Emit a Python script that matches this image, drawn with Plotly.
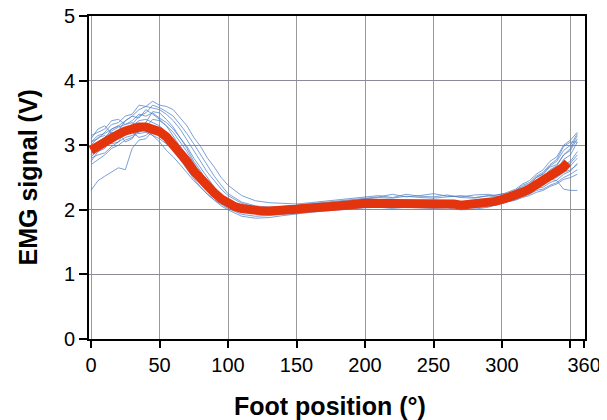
import plotly.graph_objects as go

# ---- data ----
trial_x = [0, 5, 10, 15, 20, 25, 30, 35, 40, 45, 50, 55, 60, 65, 70, 75, 80, 85, 90, 95, 100,
           110, 120, 130, 140, 150, 160, 170, 180, 190, 200, 210, 220, 230, 240, 250, 260, 270, 280, 290,
           295, 300, 305, 310, 315, 320, 325, 330, 335, 340, 345, 350, 355]

trial_01 = [2.30, 2.45, 2.52, 2.58, 2.65, 2.62, 2.95, 3.08, 3.10, 3.22, 3.18, 3.15, 3.05, 2.98, 2.80, 2.62, 2.52, 2.40, 2.30, 2.18, 2.12,
            2.02, 1.98, 1.97, 1.98, 2.00, 2.02, 2.03, 2.06, 2.08, 2.10, 2.12, 2.10, 2.12, 2.11, 2.09, 2.10, 2.08, 2.07, 2.10,
            2.12, 2.14, 2.19, 2.20, 2.26, 2.28, 2.36, 2.38, 2.47, 2.50, 2.58, 2.62, 2.70]
trial_02 = [3.05, 3.10, 3.20, 3.32, 3.35, 3.45, 3.48, 3.62, 3.60, 3.68, 3.62, 3.60, 3.55, 3.42, 3.30, 3.12, 2.98, 2.80, 2.66, 2.50, 2.38,
            2.22, 2.14, 2.11, 2.10, 2.09, 2.11, 2.13, 2.15, 2.18, 2.20, 2.22, 2.19, 2.24, 2.21, 2.20, 2.23, 2.19, 2.18, 2.22,
            2.20, 2.22, 2.26, 2.28, 2.34, 2.37, 2.45, 2.50, 2.62, 2.68, 2.85, 2.95, 3.15]
trial_03 = [2.85, 3.02, 3.10, 3.25, 3.30, 3.38, 3.45, 3.42, 3.55, 3.48, 3.40, 3.30, 3.15, 2.98, 2.82, 2.62, 2.50, 2.34, 2.25, 2.14, 2.08,
            1.98, 1.95, 1.94, 1.96, 1.98, 2.00, 2.02, 2.03, 2.06, 2.08, 2.09, 2.10, 2.08, 2.10, 2.07, 2.08, 2.06, 2.05, 2.07,
            2.10, 2.12, 2.14, 2.18, 2.23, 2.25, 2.33, 2.35, 2.42, 2.46, 2.55, 2.60, 2.72]
trial_04 = [3.00, 3.12, 3.15, 3.02, 3.05, 3.22, 3.30, 3.38, 3.40, 3.35, 3.30, 3.18, 3.05, 2.85, 2.72, 2.55, 2.42, 2.28, 2.20, 2.10, 2.05,
            1.97, 1.94, 1.95, 1.97, 1.99, 2.01, 2.02, 2.04, 2.07, 2.09, 2.10, 2.08, 2.11, 2.09, 2.10, 2.11, 2.07, 2.08, 2.11,
            2.12, 2.15, 2.20, 2.24, 2.32, 2.34, 2.40, 2.44, 2.55, 2.62, 2.78, 2.85, 3.05]
trial_05 = [2.75, 2.90, 2.95, 3.12, 3.20, 3.05, 3.10, 3.28, 3.35, 3.52, 3.50, 3.40, 3.28, 3.12, 2.95, 2.75, 2.60, 2.42, 2.30, 2.18, 2.10,
            2.00, 1.96, 1.97, 1.99, 2.01, 2.03, 2.05, 2.06, 2.10, 2.11, 2.13, 2.12, 2.11, 2.13, 2.12, 2.10, 2.10, 2.11, 2.12,
            2.13, 2.16, 2.18, 2.22, 2.30, 2.32, 2.42, 2.48, 2.52, 2.58, 2.70, 2.75, 2.90]
trial_06 = [3.15, 3.20, 3.25, 3.38, 3.40, 3.32, 3.35, 3.28, 3.30, 3.25, 3.18, 3.08, 2.95, 2.78, 2.62, 2.48, 2.35, 2.24, 2.15, 2.08, 2.02,
            1.93, 1.90, 1.91, 1.93, 1.96, 1.98, 2.00, 2.01, 2.03, 2.05, 2.06, 2.05, 2.06, 2.05, 2.04, 2.05, 2.03, 2.03, 2.05,
            2.08, 2.10, 2.12, 2.15, 2.19, 2.22, 2.27, 2.30, 2.36, 2.40, 2.47, 2.50, 2.55]
trial_07 = [2.90, 2.98, 3.00, 3.08, 3.12, 3.20, 3.25, 3.18, 3.20, 3.15, 3.10, 3.02, 2.92, 2.82, 2.70, 2.58, 2.45, 2.32, 2.22, 2.12, 2.06,
            1.98, 1.96, 1.97, 1.99, 2.00, 2.02, 2.04, 2.05, 2.08, 2.10, 2.11, 2.10, 2.12, 2.10, 2.11, 2.09, 2.08, 2.09, 2.12,
            2.15, 2.18, 2.20, 2.25, 2.33, 2.38, 2.50, 2.55, 2.66, 2.70, 2.85, 2.92, 3.10]
trial_08 = [2.80, 2.85, 2.88, 2.98, 3.05, 3.12, 3.15, 3.22, 3.28, 3.40, 3.38, 3.30, 3.20, 3.05, 2.90, 2.72, 2.55, 2.40, 2.28, 2.18, 2.10,
            2.01, 1.97, 1.96, 1.98, 2.00, 2.02, 2.03, 2.05, 2.07, 2.09, 2.11, 2.11, 2.10, 2.12, 2.11, 2.12, 2.09, 2.10, 2.12,
            2.14, 2.16, 2.20, 2.22, 2.28, 2.30, 2.37, 2.40, 2.48, 2.52, 2.62, 2.68, 2.80]
trial_09 = [3.10, 3.25, 3.30, 3.18, 3.22, 3.38, 3.45, 3.55, 3.60, 3.58, 3.55, 3.48, 3.38, 3.25, 3.08, 2.92, 2.75, 2.58, 2.45, 2.32, 2.22,
            2.10, 2.04, 2.03, 2.05, 2.07, 2.09, 2.11, 2.14, 2.16, 2.18, 2.20, 2.24, 2.20, 2.22, 2.25, 2.21, 2.20, 2.23, 2.24,
            2.22, 2.25, 2.24, 2.30, 2.36, 2.40, 2.50, 2.56, 2.68, 2.75, 2.92, 3.00, 3.18]
trial_10 = [2.70, 2.78, 2.85, 2.95, 3.00, 3.08, 3.12, 3.20, 3.25, 3.15, 3.05, 2.92, 2.82, 2.70, 2.58, 2.45, 2.35, 2.24, 2.15, 2.06, 2.00,
            1.90, 1.87, 1.88, 1.91, 1.94, 1.96, 1.98, 2.00, 2.02, 2.03, 2.04, 2.02, 2.04, 2.03, 2.02, 2.03, 2.00, 2.01, 2.04,
            2.07, 2.10, 2.13, 2.16, 2.21, 2.24, 2.30, 2.32, 2.38, 2.42, 2.50, 2.55, 2.62]
trial_11 = [2.95, 3.05, 3.12, 3.22, 3.28, 3.32, 3.38, 3.48, 3.45, 3.50, 3.42, 3.35, 3.25, 3.12, 2.98, 2.80, 2.65, 2.48, 2.35, 2.24, 2.15,
            2.04, 1.99, 1.98, 1.99, 2.01, 2.03, 2.05, 2.07, 2.10, 2.12, 2.13, 2.14, 2.12, 2.13, 2.14, 2.11, 2.10, 2.11, 2.14,
            2.16, 2.20, 2.25, 2.30, 2.38, 2.42, 2.52, 2.58, 2.70, 2.78, 2.98, 3.05, 3.05]
trial_12 = [3.05, 3.15, 3.18, 3.25, 3.30, 3.20, 3.22, 3.32, 3.30, 3.28, 3.25, 3.12, 3.00, 2.85, 2.70, 2.55, 2.42, 2.30, 2.20, 2.12, 2.05,
            1.98, 1.95, 1.95, 1.97, 1.99, 2.01, 2.03, 2.04, 2.07, 2.08, 2.10, 2.09, 2.10, 2.09, 2.08, 2.09, 2.06, 2.07, 2.09,
            2.11, 2.13, 2.17, 2.20, 2.26, 2.28, 2.36, 2.40, 2.48, 2.45, 2.32, 2.30, 2.30]
trial_13 = [2.88, 3.00, 3.08, 3.20, 3.18, 3.25, 3.32, 3.45, 3.50, 3.62, 3.58, 3.52, 3.45, 3.32, 3.18, 3.02, 2.85, 2.68, 2.52, 2.38, 2.25,
            2.12, 2.06, 2.04, 2.05, 2.07, 2.08, 2.10, 2.12, 2.15, 2.17, 2.19, 2.18, 2.21, 2.19, 2.18, 2.20, 2.22, 2.19, 2.21,
            2.22, 2.24, 2.28, 2.32, 2.40, 2.45, 2.55, 2.62, 2.75, 2.82, 3.00, 3.08, 3.20]
trial_14 = [2.82, 2.92, 2.98, 3.05, 3.10, 3.18, 3.20, 3.12, 3.15, 3.25, 3.22, 3.18, 3.10, 2.98, 2.85, 2.70, 2.55, 2.40, 2.28, 2.18, 2.10,
            2.00, 1.96, 1.95, 1.96, 1.98, 2.00, 2.02, 2.04, 2.06, 2.08, 2.10, 2.09, 2.10, 2.09, 2.10, 2.09, 2.07, 2.08, 2.10,
            2.12, 2.15, 2.20, 2.22, 2.28, 2.30, 2.38, 2.42, 2.52, 2.56, 2.68, 2.72, 2.85]

trials = [trial_01, trial_02, trial_03, trial_04, trial_05, trial_06, trial_07,
          trial_08, trial_09, trial_10, trial_11, trial_12, trial_13, trial_14]

mean_x = [0, 5, 10, 15, 20, 25, 30, 35, 40, 45, 50, 55, 60, 65, 70, 75, 80, 85, 90, 95,
          100, 105, 110, 115, 120, 125, 130, 135, 140, 145, 150, 155, 160, 165, 170, 175,
          180, 185, 190, 195, 200, 205, 210, 215, 220, 225, 230, 235, 240, 245, 250, 255,
          260, 265, 270, 275, 280, 285, 290, 295, 300, 305, 310, 315, 320, 325, 330, 335,
          340, 345, 348]
mean_y = [2.92, 2.99, 3.06, 3.12, 3.17, 3.22, 3.26, 3.28, 3.28, 3.26, 3.21, 3.13, 3.02, 2.89,
          2.75, 2.60, 2.47, 2.36, 2.26, 2.17, 2.10, 2.05, 2.02, 2.00, 1.99, 1.98, 1.98, 1.98,
          1.99, 2.00, 2.01, 2.02, 2.02, 2.03, 2.04, 2.05, 2.06, 2.08, 2.09, 2.09, 2.10, 2.10,
          2.12, 2.11, 2.10, 2.12, 2.11, 2.10, 2.11, 2.10, 2.10, 2.11, 2.10, 2.09, 2.07, 2.08,
          2.09, 2.09, 2.11, 2.13, 2.16, 2.19, 2.23, 2.27, 2.32, 2.38, 2.44, 2.50, 2.57, 2.66,
          2.73]

x_tickvals = [0, 50, 100, 150, 200, 250, 300, 350, 360]
x_ticktext = ["0", "50", "100", "150", "200", "250", "300", "", "360"]
y_tickvals = [0, 1, 2, 3, 4, 5]

x_title = "Foot position (°)"
y_title = "EMG signal (V)"

# ---- figure ----
FONT = "Liberation Sans, Arial, Helvetica, sans-serif"
fig = go.Figure()

for tr in trials:
    fig.add_trace(go.Scatter(x=trial_x, y=tr, mode="lines",
                             line=dict(color="#4a7cc6", width=0.8),
                             opacity=0.9, showlegend=False, hoverinfo="skip"))

fig.add_trace(go.Scatter(x=mean_x, y=mean_y, mode="lines",
                         line=dict(color="#e4340e", width=9),
                         showlegend=False))

fig.update_layout(
    width=599, height=412,
    margin=dict(l=81, r=22, t=8, b=81, autoexpand=False),
    paper_bgcolor="white", plot_bgcolor="white",
    font=dict(family=FONT, size=20, color="black"),
    xaxis=dict(range=[-1.5, 360.6], tickvals=x_tickvals, ticktext=x_ticktext,
               showgrid=True, gridcolor="#9a9a9a", gridwidth=1,
               showline=True, linecolor="black", linewidth=2, mirror=True,
               ticks="outside", ticklen=7, tickwidth=2, tickcolor="black",
               zeroline=False, tickfont=dict(size=20), automargin=False,
               ticklabeloverflow="allow"),
    yaxis=dict(range=[0, 5], tickvals=y_tickvals,
               showgrid=True, gridcolor="#8f8a99", gridwidth=1,
               showline=True, linecolor="black", linewidth=2, mirror=True,
               ticks="outside", ticklen=8, tickwidth=1.5, tickcolor="black",
               zeroline=False, tickfont=dict(size=20), automargin=False,
               ticklabeloverflow="allow"),
    annotations=[
        dict(text=x_title, xref="paper", yref="paper", x=0.486, y=-0.207,
             xanchor="center", yanchor="middle", showarrow=False,
             font=dict(size=25, family=FONT, color="black", weight="bold")),
        dict(text=y_title, xref="paper", yref="paper", x=-0.125, y=0.5,
             xanchor="center", yanchor="middle", showarrow=False, textangle=-90,
             font=dict(size=25, family=FONT, color="black", weight="bold")),
    ],
)

fig.write_html("out.html")
